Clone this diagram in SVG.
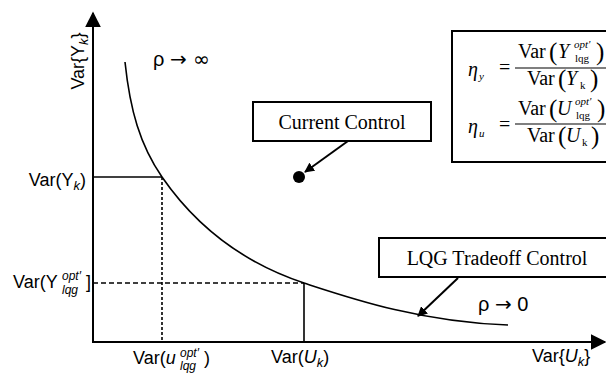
<svg xmlns="http://www.w3.org/2000/svg" width="606" height="374" viewBox="0 0 606 374">
<style>
.ax{stroke:#000;stroke-width:2;fill:none}
.ln{stroke:#000;stroke-width:1.6;fill:none}
.sans{font-family:"Liberation Sans","DejaVu Sans",sans-serif;fill:#000}
.serif{font-family:"Liberation Serif","Times New Roman",serif;fill:#000}
.box{fill:#fff;stroke:#000;stroke-width:2}
.dj{font-family:"DejaVu Sans",sans-serif}
</style>
<defs>
<marker id="ah" viewBox="0 0 10 10" refX="9" refY="5" markerWidth="10" markerHeight="10" markerUnits="userSpaceOnUse" orient="auto">
<path d="M0,0 L10,5 L0,10 Z" fill="#000"/>
</marker>
<marker id="big" viewBox="0 0 10 10" refX="9" refY="5" markerWidth="16" markerHeight="16" markerUnits="userSpaceOnUse" orient="auto">
<path d="M0,0 L10,5 L0,10 Z" fill="#000"/>
</marker>
</defs>
<rect width="606" height="374" fill="#fff"/>
<g id="connectors">
<line class="ax" x1="93" y1="343" x2="93" y2="13" marker-end="url(#big)"/>
<line class="ax" x1="92" y1="342" x2="605" y2="342" marker-end="url(#big)"/>
<path class="ln" d="M125,62 C130,110 140,145 162,177 C200,232 250,265 304,283 C350,298 420,322 508,325"/>
<line class="ln" x1="93" y1="177" x2="162" y2="177"/>
<line class="ln" x1="162" y1="177" x2="162" y2="342" stroke-dasharray="3,2"/>
<line class="ln" x1="93" y1="283" x2="304" y2="283" stroke-dasharray="5,3"/>
<line class="ln" x1="304" y1="283" x2="304" y2="342"/>
<line class="ax" x1="348" y1="141" x2="305" y2="172" marker-end="url(#ah)"/>
<line class="ax" x1="458" y1="278" x2="418" y2="316" marker-end="url(#ah)"/>
</g>
<g id="current-point"><circle cx="299" cy="177" r="6" fill="#000"/></g>
<g id="current-control">
<rect class="box" x="253" y="102" width="178" height="39"/>
<text class="serif" x="342" y="129" font-size="20" text-anchor="middle">Current Control</text>
</g>
<g id="lqg-tradeoff">
<rect class="box" x="379" y="238" width="240" height="39"/>
<text class="serif" x="497" y="265" font-size="20" text-anchor="middle">LQG Tradeoff Control</text>
</g>
<g id="formula">
<rect class="box" x="452" y="31" width="180" height="131"/>
<g class="serif" font-size="20">
<text x="468" y="76" font-style="italic">η</text>
<text x="479" y="80" font-size="11" font-style="italic">y</text>
<text x="499" y="74">=</text>
<line x1="515" y1="68" x2="610" y2="68" stroke="#000" stroke-width="1.2"/>
<text x="518" y="58">Var</text>
<text x="549" y="60" font-size="25">(</text>
<text x="558" y="58" font-style="italic">Y</text>
<text x="574" y="48" font-size="11" font-style="italic">opt'</text>
<text x="575" y="62" font-size="11">lqg</text>
<text x="596" y="60" font-size="25">)</text>
<text x="527" y="85">Var</text>
<text x="558" y="87" font-size="25">(</text>
<text x="566" y="85" font-style="italic">Y</text>
<text x="580" y="89" font-size="11">k</text>
<text x="590" y="87" font-size="25">)</text>
<text x="468" y="133" font-style="italic">η</text>
<text x="479" y="137" font-size="11" font-style="italic">u</text>
<text x="499" y="131">=</text>
<line x1="515" y1="124" x2="610" y2="124" stroke="#000" stroke-width="1.2"/>
<text x="518" y="115">Var</text>
<text x="549" y="117" font-size="25">(</text>
<text x="557" y="115" font-style="italic">U</text>
<text x="575" y="105" font-size="11" font-style="italic">opt'</text>
<text x="576" y="119" font-size="11">lqg</text>
<text x="597" y="117" font-size="25">)</text>
<text x="527" y="142">Var</text>
<text x="558" y="144" font-size="25">(</text>
<text x="566" y="142" font-style="italic">U</text>
<text x="582" y="146" font-size="11">k</text>
<text x="591" y="144" font-size="25">)</text>
</g>
</g>
<g id="labels" class="sans">
<text class="sans" x="153" y="66" font-size="20">ρ <tspan class="dj">→ ∞</tspan></text>
<text class="sans" x="478" y="311" font-size="20">ρ <tspan class="dj">→</tspan> 0</text>
<text class="sans" transform="translate(84,61) rotate(-90)" font-size="18" text-anchor="middle">Var{Y<tspan font-style="italic" font-size="13" dy="4">k</tspan><tspan dy="-4">}</tspan></text>
<text class="sans" x="86" y="186" font-size="18" text-anchor="end">Var(Y<tspan font-style="italic" font-size="13" dy="4">k</tspan><tspan dy="-4">)</tspan></text>
<text class="sans" x="13" y="288" font-size="18">Var(Y</text>
<text class="sans" x="62" y="280" font-size="12" font-style="italic">opt′</text>
<text class="sans" x="62" y="294" font-size="12" font-style="italic">lqg</text>
<text class="sans" x="86" y="288" font-size="18">]</text>
<text class="sans" x="133" y="364" font-size="18">Var(<tspan font-style="italic">u</tspan></text>
<text class="sans" x="180" y="357" font-size="12" font-style="italic">opt′</text>
<text class="sans" x="180" y="370" font-size="12" font-style="italic">lqg</text>
<text class="sans" x="204" y="364" font-size="18">)</text>
<text class="sans" x="271" y="363" font-size="18">Var(<tspan font-style="italic">U</tspan><tspan font-style="italic" font-size="13" dy="4">k</tspan><tspan dy="-4">)</tspan></text>
<text class="sans" x="532" y="362" font-size="18">Var{<tspan font-style="italic">U</tspan><tspan font-style="italic" font-size="13" dy="4">k</tspan><tspan dy="-4">}</tspan></text>
</g>
</svg>
